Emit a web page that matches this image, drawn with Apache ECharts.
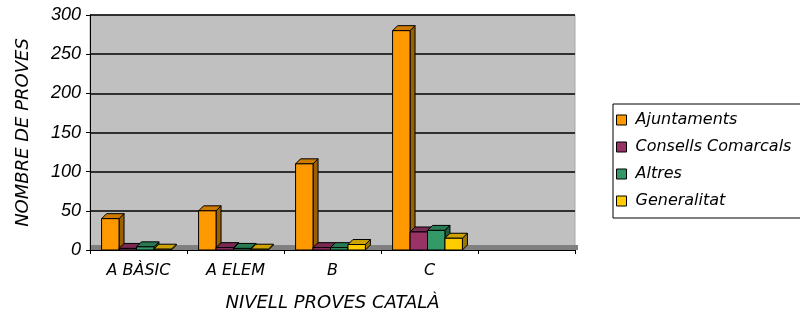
<!DOCTYPE html>
<html>
<head>
  <meta charset="utf-8" />
  <title>Nivell proves català</title>
  <style>
    html, body { margin: 0; padding: 0; background: #fff; }
    #main { width: 800px; height: 312px; }
  </style>
</head>
<body>
  <div id="main"></div>
  <script src="https://cdn.jsdelivr.net/npm/echarts@6/dist/echarts.min.js"></script>
  <script>
    // dades
    var categories = ['A BÀSIC', 'A ELEM', 'B', 'C', ''];
    var seriesNames = ['Ajuntaments', 'Consells Comarcals', 'Altres', 'Generalitat'];
    var ajuntaments = [40, 50, 110, 280];
    var consells = [2, 3, 3, 23];
    var altres = [4, 2, 3, 25];
    var generalitat = [1, 1, 7, 15];
    var yTicks = [0, 50, 100, 150, 200, 250, 300];

    // colors: cara frontal, lateral, superior
    var shades = [
      ['#FF9900', '#996100', '#CC7A00'],
      ['#993366', '#5C1F3D', '#7A2952'],
      ['#339966', '#1F5C3D', '#297A52'],
      ['#FFCC00', '#997A00', '#CCA300']
    ];
    var font = "'DejaVu Sans', sans-serif";
    var numFont = "'Liberation Sans', Arial, sans-serif";

    function renderBar(params, api) {
      var idx = api.value(0);
      var val = api.value(1);
      var base = api.coord([idx, 0]);
      var top = api.coord([idx, val]);
      var catW = api.size([1, 0])[0];
      var bw = catW * 0.18;
      var d = 5;
      var s = params.seriesIndex;
      var x0 = base[0] - 2 * bw - 2 + s * bw;
      var x1 = x0 + bw;
      var y0 = base[1];
      var y1 = top[1];
      var c = shades[s];
      var line = { stroke: '#000', lineWidth: 1 };
      return {
        type: 'group',
        children: [
          { type: 'polygon', shape: { points: [[x1, y1], [x1 + d, y1 - d], [x1 + d, y0 - d], [x1, y0]] },
            style: Object.assign({ fill: c[1] }, line) },
          { type: 'polygon', shape: { points: [[x0, y1], [x1, y1], [x1 + d, y1 - d], [x0 + d, y1 - d]] },
            style: Object.assign({ fill: c[2] }, line) },
          { type: 'rect', shape: { x: x0, y: y1, width: bw, height: y0 - y1 },
            style: Object.assign({ fill: c[0] }, line) }
        ]
      };
    }

    function toPairs(arr) {
      return arr.map(function (v, i) { return [i, v]; });
    }

    var allData = [ajuntaments, consells, altres, generalitat];
    var series = allData.map(function (arr, i) {
      return {
        name: seriesNames[i],
        type: 'custom',
        renderItem: renderBar,
        itemStyle: { color: shades[i][0] },
        encode: { x: 0, y: 1 },
        data: toPairs(arr)
      };
    });

    var chart = echarts.init(document.getElementById('main'));
    chart.setOption({
      animation: false,
      grid: {
        left: 90, right: 225, top: 15, bottom: 62,
        outerBoundsMode: 'none',
        show: true, backgroundColor: '#C0C0C0', borderColor: '#A8A8A8', borderWidth: 1
      },
      legend: {
        orient: 'vertical',
        left: 613, top: 104,
        padding: [8, 60, 9, 3],
        itemGap: 11,
        itemWidth: 10, itemHeight: 10,
        icon: 'rect',
        borderColor: '#000', borderWidth: 1,
        itemStyle: { borderColor: '#000', borderWidth: 1 },
        textStyle: { fontFamily: font, fontStyle: 'italic', fontSize: 16, lineHeight: 16, color: '#000', padding: [0, 0, 0, 4] },
        data: seriesNames
      },
      xAxis: {
        type: 'category',
        data: categories,
        name: 'NIVELL PROVES CATALÀ',
        nameLocation: 'middle',
        nameGap: 44,
        nameTextStyle: { fontFamily: font, fontStyle: 'italic', fontSize: 18, color: '#000' },
        axisLine: { lineStyle: { color: '#000', width: 1 } },
        axisTick: { show: true, length: 4, lineStyle: { color: '#000' } },
        axisLabel: { fontFamily: font, fontStyle: 'italic', fontSize: 16, color: '#000', margin: 13 },
        splitLine: { show: false }
      },
      yAxis: {
        type: 'value',
        min: yTicks[0],
        max: yTicks[yTicks.length - 1],
        interval: 50,
        name: 'NOMBRE DE PROVES',
        nameLocation: 'middle',
        nameGap: 58,
        nameRotate: 90,
        nameTextStyle: { fontFamily: font, fontStyle: 'italic', fontSize: 18, color: '#000' },
        axisLine: { show: true, lineStyle: { color: '#000', width: 1 } },
        axisTick: { show: true, length: 4, lineStyle: { color: '#000' } },
        axisLabel: { fontFamily: numFont, fontStyle: 'italic', fontSize: 18, color: '#000', margin: 9 },
        splitLine: { show: true, lineStyle: { color: '#000', width: 1.5 } }
      },
      series: series
    });

    // terra gris fosc del gràfic 3D
    var p0 = chart.convertToPixel({ gridIndex: 0 }, [0, 0]);
    var gridRect = chart.getModel().getComponent('grid', 0).coordinateSystem.getRect();
    chart.setOption({
      graphic: [{
        type: 'rect', z: 0, silent: true,
        shape: { x: gridRect.x + 1, y: p0[1] - 5, width: gridRect.width + 2, height: 5 },
        style: { fill: '#808080' }
      }]
    });
  </script>
</body>
</html>
